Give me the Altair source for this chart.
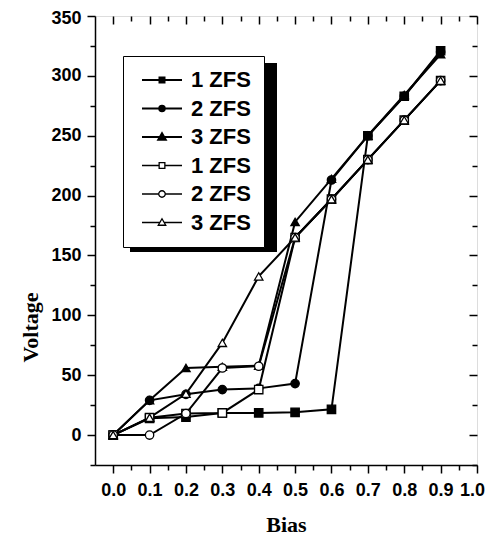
import altair as alt
import pandas as pd

# ---- data ----
bias = [0.0, 0.1, 0.2, 0.3, 0.4, 0.5, 0.6, 0.7, 0.8, 0.9]
keys = ["a1", "a2", "a3", "b1", "b2", "b3"]
names = ["1 ZFS", "2 ZFS", "3 ZFS", "1 ZFS", "2 ZFS", "3 ZFS"]
solid_1 = [0, 14, 15, 18.5, 18.5, 19, 21.5, 250, 283, 321]
solid_2 = [0, 29, 34, 38, 39, 43, 213, 250, 283, 320]
solid_3 = [0, 29, 56, 57, 58, 178, 214, 250, 284, 318]
open_1 = [0, 14.5, 18, 18.5, 38, 165, 197, 230, 263, 296]
open_2 = [0, 0, 18, 56, 57.5, 165, 197, 230, 263, 296]
open_3 = [0, 14.5, 34.5, 77, 132.5, 165, 197, 230, 263, 296]
series = [solid_1, solid_2, solid_3, open_1, open_2, open_3]

x_major = [0.0, 0.1, 0.2, 0.3, 0.4, 0.5, 0.6, 0.7, 0.8, 0.9, 1.0]
x_minor = [0.05, 0.15, 0.25, 0.35, 0.45, 0.55, 0.65, 0.75, 0.85, 0.95]
y_major = [0, 50, 100, 150, 200, 250, 300, 350]
y_minor = [-25, 25, 75, 125, 175, 225, 275, 325]

rows = []
for k, vals in zip(keys, series):
    for b, v in zip(bias, vals):
        rows.append({"key": k, "bias": b, "voltage": v})
df = pd.DataFrame(rows)

# ---- styles ----
fills = ["black", "black", "black", "white", "white", "white"]
widths = [2.0, 2.0, 2.0, 1.2, 1.2, 1.2]
marker_shapes = ["square", "circle", "triangle-up", "square", "circle", "triangle-up"]
# legend glyphs: line + marker (filled markers drawn as dense strokes)
sq_f = "M-4,0H4M-0.5,-0.5H0.5V0.5H-0.5ZM-0.5,-0.22H0.5M-0.5,0.22H0.5"
ci_f = ("M-4,0H4M0.55,0A0.55,0.55 0 1,1 -0.55,0A0.55,0.55 0 1,1 0.55,0Z"
        "M0.27,0A0.27,0.27 0 1,1 -0.27,0A0.27,0.27 0 1,1 0.27,0Z")
tr_f = "M-4,0H4M0,-0.75L0.75,0.55H-0.75ZM0,-0.32L0.375,0.33H-0.375Z"
sq_o = "M-4,0H-0.57M0.57,0H4M-0.57,-0.57H0.57V0.57H-0.57Z"
ci_o = "M-4,0H-0.65M0.65,0H4M0.65,0A0.65,0.65 0 1,1 -0.65,0A0.65,0.65 0 1,1 0.65,0Z"
tr_o = "M-4,0H-0.43M0.43,0H4M0,-0.75L0.75,0.55H-0.75Z"
legend_shapes = [sq_f, ci_f, tr_f, sq_o, ci_o, tr_o]

SANS = "Liberation Sans"
SERIF = "Liberation Serif"

xscale = alt.Scale(domain=[-0.05, 1.0], nice=False, zero=False)
yscale = alt.Scale(domain=[-25, 350], nice=False, zero=False)

base = alt.Chart(df)

lines = base.mark_line(color="black").encode(
    x=alt.X("bias:Q", scale=xscale, axis=alt.Axis(
        values=x_major, format=".1f", tickSize=8, tickWidth=1.5, domainWidth=1.5,
        domainColor="black", tickColor="black", labelColor="black",
        labelFont=SANS, labelFontSize=18, labelFontWeight="bold", labelPadding=8,
        labelOffset={"condition": {"test": "datum.value >= 0.99", "value": -5}, "value": 0},
        title="Bias", titleFont=SERIF, titleFontSize=22, titleFontWeight="bold",
        titleColor="black", titlePadding=15, grid=False, labelFlush=False)),
    y=alt.Y("voltage:Q", scale=yscale, axis=alt.Axis(
        values=y_major, tickSize=8, tickWidth=1.5, domainWidth=1.5,
        domainColor="black", tickColor="black", labelColor="black",
        labelFont=SANS, labelFontSize=18, labelFontWeight="bold", labelPadding=6,
        labelOffset={"condition": {"test": "datum.value >= 349", "value": 2}, "value": 0},
        title="Voltage", titleFont=SERIF, titleFontSize=22, titleFontWeight="bold",
        titleColor="black", titleX=-65, titleY=311, titleBaseline="middle",
        titleAlign="center", titleAngle=-90, grid=False, labelFlush=False)),
    detail="key:N",
    strokeWidth=alt.StrokeWidth("key:N", scale=alt.Scale(domain=keys, range=widths), legend=None),
)

points = base.mark_point(stroke="black", strokeWidth=1.3, opacity=1, size=70).encode(
    x=alt.X("bias:Q", scale=xscale, axis=None),
    y=alt.Y("voltage:Q", scale=yscale, axis=None),
    shape=alt.Shape("key:N", scale=alt.Scale(domain=keys, range=marker_shapes), legend=None),
    fill=alt.Fill("key:N", scale=alt.Scale(domain=keys, range=fills), legend=None),
)

label_expr = "{" + ",".join(f"'{k}':'{n}'" for k, n in zip(keys, names)) + "}[datum.label]"
solid_test = "indexof(['a1','a2','a3'], datum.value) >= 0"

legend_layer = alt.Chart(pd.DataFrame({"key": keys})).transform_filter("false").mark_point(
    stroke="black", size=196, opacity=1, filled=False
).encode(
    shape=alt.Shape("key:N", scale=alt.Scale(domain=keys, range=legend_shapes), legend=alt.Legend(
        orient="none", legendX=28, legendY=40, title=None, labelExpr=label_expr,
        labelFont=SANS, labelFontSize=22, labelFontWeight="bold", labelColor="black",
        fillColor="white", strokeColor="black", padding=13, rowPadding=6.5,
        symbolOffset=15, labelOffset=18, symbolStrokeColor="black",
        symbolStrokeWidth={"expr": f"{solid_test} ? 2 : 1.3"})),
)

shadow = alt.Chart(pd.DataFrame({"k": [0]})).mark_rect(color="black").encode(
    x=alt.value(35), x2=alt.value(182), y=alt.value(47), y2=alt.value(236)
)

def tick_layer(xvals, yvals, xorient, yorient, size, offset):
    return base.mark_point(opacity=0).encode(
        x=alt.X("bias:Q", scale=xscale, axis=alt.Axis(
            orient=xorient, values=xvals, tickSize=size, tickWidth=1.5, tickColor="black",
            labels=False, domain=False, title=None, grid=False, offset=offset)),
        y=alt.Y("voltage:Q", scale=yscale, axis=alt.Axis(
            orient=yorient, values=yvals, tickSize=size, tickWidth=1.5, tickColor="black",
            labels=False, domain=False, title=None, grid=False, offset=offset)),
    )

minor_bl = tick_layer(x_minor, y_minor, "bottom", "left", 5, 0)
major_tr = tick_layer(x_major, y_major, "top", "right", 8, -8)
minor_tr = tick_layer(x_minor, y_minor, "top", "right", 5, -5)

chart = alt.layer(shadow, lines, points, legend_layer, minor_bl, major_tr, minor_tr).resolve_axis(
    x="independent", y="independent"
).resolve_scale(
    shape="independent", fill="independent", strokeWidth="independent"
).resolve_legend(
    shape="independent", fill="independent", strokeWidth="independent"
).properties(
    width=382, height=449, autosize="none",
    padding={"left": 87, "top": 8, "right": 9, "bottom": 70},
).configure_view(stroke="black", strokeWidth=1.5).configure(background="white")

chart.save("out.html", embed_options={"renderer": "svg", "actions": False})
